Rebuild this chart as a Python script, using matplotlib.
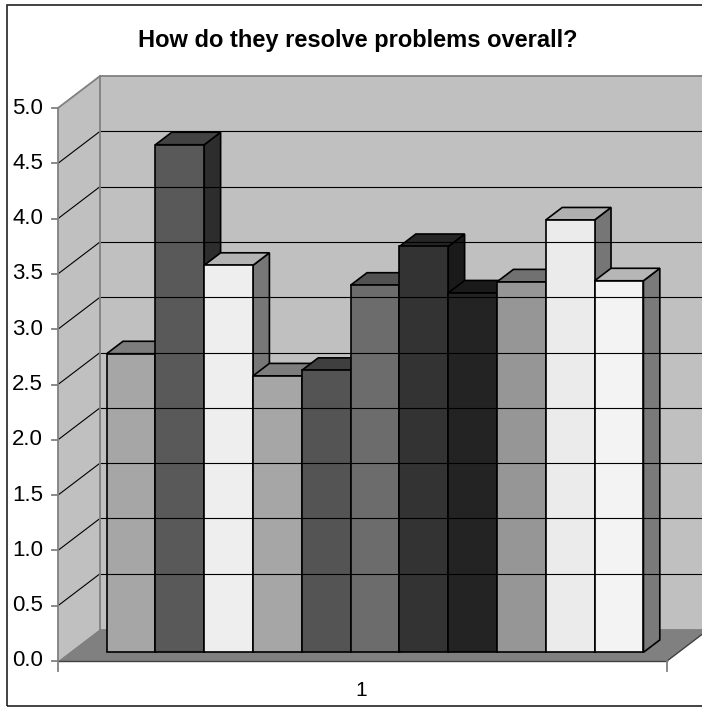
import matplotlib
matplotlib.use("Agg")
import matplotlib.pyplot as plt
from matplotlib.patches import Polygon, Rectangle
import numpy as np

plt.rcParams['font.family'] = ['Liberation Sans', 'DejaVu Sans']

# данные
title = "How do they resolve problems overall?"
category = "1"
values = [2.70, 4.59, 3.50, 2.50, 2.55, 3.32, 3.67, 3.25, 3.35, 3.91, 3.36]
colors = ['#a6a6a6', '#595959', '#eeeeee', '#a6a6a6', '#545454', '#6c6c6c',
          '#333333', '#232323', '#969696', '#ebebeb', '#f3f3f3']
yticks = np.arange(0, 5.01, 0.5)

# геометрия псевдо-3D (x в ширинах столбцов, y в единицах значений)
W = 12.48          # ширина пола
DX, DY = 0.861, 0.289   # сдвиг на полную глубину
X0 = 0.764         # левый край первого столбца
D0, D1 = 0.27, 0.66     # передняя и задняя грань столбцов
YMAX = 5.0


def proj(x, v, d):
    return (x + d * DX, v + d * DY)


def shade(c, k):
    r, g, b = matplotlib.colors.to_rgb(c)
    return (r * k, g * k, b * k)


fig = plt.figure(figsize=(7.02, 7.08), dpi=100)
ax = fig.add_axes([0, 0, 1, 1])
ax.set_xlim(-58 / 48.8, 644 / 48.8)
ax.set_ylim(-47 / 110.6, 661 / 110.6)
ax.axis('off')

# рамка
fig.patches.append(Rectangle((7 / 702, 2 / 708), 1.0, 701 / 708,
                             transform=fig.transFigure, fill=False,
                             ec='#222222', lw=1.2))

# стены и пол
wall = '#c0c0c0'
frame = '#808080'
side = [proj(0, 0, 0), proj(0, 0, 1), proj(0, YMAX, 1), proj(0, YMAX, 0)]
back = [proj(0, 0, 1), proj(W, 0, 1), proj(W, YMAX, 1), proj(0, YMAX, 1)]
floor = [proj(0, 0, 0), proj(W, 0, 0), proj(W, 0, 1), proj(0, 0, 1)]
ax.add_patch(Polygon(side, fc=wall, ec='none'))
ax.add_patch(Polygon(back, fc=wall, ec='none'))
ax.add_patch(Polygon(floor, fc='#808080', ec='none'))

for t in yticks[1:-1]:
    a, b = proj(0, t, 0), proj(0, t, 1)
    ax.plot([a[0], b[0]], [a[1], b[1]], color='black', lw=0.8)
    c = proj(W, t, 1)
    ax.plot([b[0], c[0]], [b[1], c[1]], color='black', lw=0.8)

# рёбра стен
for p, q in [((0, 0, 1), (0, YMAX, 1)), ((0, YMAX, 0), (0, YMAX, 1)),
             ((0, YMAX, 1), (W, YMAX, 1))]:
    a, b = proj(*p), proj(*q)
    ax.plot([a[0], b[0]], [a[1], b[1]], color=frame, lw=1.3)
a, b = proj(W, 0, 0), proj(W, 0, 1)
ax.plot([a[0], b[0]], [a[1], b[1]], color='#404040', lw=1.0)

# столбцы
for i, (v, c) in enumerate(zip(values, colors)):
    x0, x1 = X0 + i, X0 + i + 1
    right = [proj(x1, 0, D0), proj(x1, 0, D1), proj(x1, v, D1), proj(x1, v, D0)]
    top = [proj(x0, v, D0), proj(x1, v, D0), proj(x1, v, D1), proj(x0, v, D1)]
    front = [proj(x0, 0, D0), proj(x1, 0, D0), proj(x1, v, D0), proj(x0, v, D0)]
    ax.add_patch(Polygon(right, fc=shade(c, 0.5), ec='black', lw=1.2, joinstyle='miter'))
    ax.add_patch(Polygon(top, fc=shade(c, 0.75), ec='black', lw=1.2, joinstyle='miter'))
    ax.add_patch(Polygon(front, fc=c, ec='black', lw=1.2, joinstyle='miter'))

# оси
ax.plot([0, 0], [0, YMAX], color=frame, lw=1.3)
ax.plot([0, W], [0, 0], color='#404040', lw=1.0)
tick_len = 6 / 48.8
for t in yticks:
    ax.plot([-tick_len, 0], [t, t], color=frame, lw=1.3)
    ax.text(-9 / 48.8 - tick_len, t, f"{t:.1f}", ha='right', va='center',
            fontsize=16)
for xt in [0, W]:
    ax.plot([xt, xt], [0, -10 / 110.6], color=frame, lw=1.3)
ax.text(W / 2 - 0.02, -34.7 / 110.6, category, ha='center', va='baseline',
        fontsize=15)

fig.text(358 / 702, 1 - 47.3 / 708, title, ha='center', va='baseline',
         fontsize=17, fontweight='bold')

fig.savefig('out.png', dpi=100)
